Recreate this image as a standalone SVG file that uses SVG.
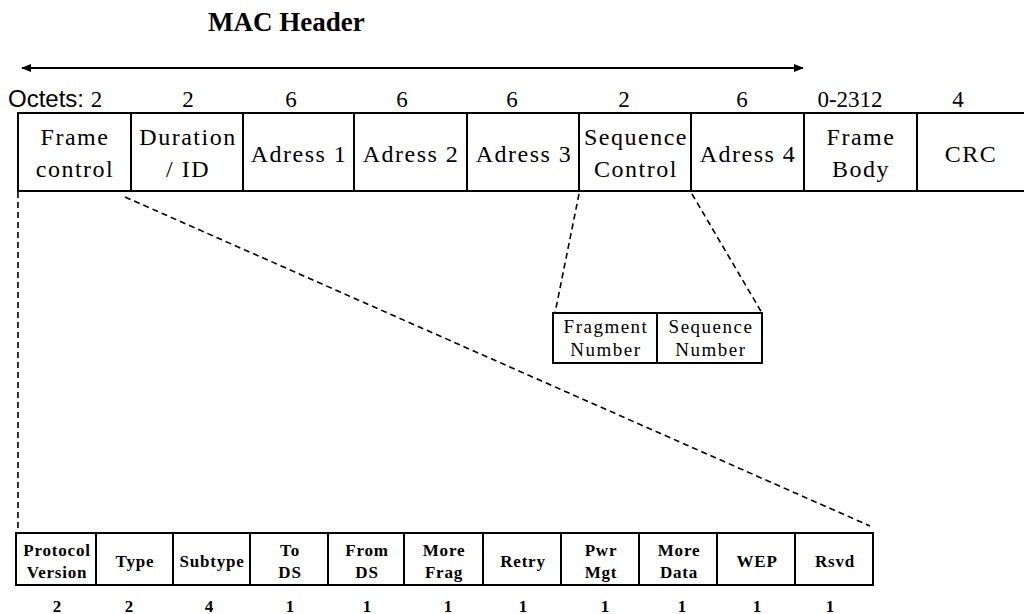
<svg xmlns="http://www.w3.org/2000/svg" width="1024" height="614" viewBox="0 0 1024 614">
<style>
  .box{fill:none;stroke:#000;stroke-width:2}
  .t{font-family:"Liberation Serif","Times New Roman",serif;font-size:24px;letter-spacing:1.5px;fill:#000;text-anchor:middle}
  .n{font-family:"Liberation Serif","Times New Roman",serif;font-size:23px;fill:#000;text-anchor:middle}
  .m{font-family:"Liberation Serif","Times New Roman",serif;font-size:19px;letter-spacing:1.5px;fill:#000;text-anchor:middle}
  .b{font-family:"Liberation Serif","Times New Roman",serif;font-size:17px;font-weight:bold;letter-spacing:0.8px;fill:#000;text-anchor:middle}
  .bn{font-family:"Liberation Serif","Times New Roman",serif;font-size:17px;font-weight:bold;fill:#000;text-anchor:middle}
  .d{fill:none;stroke:#000;stroke-width:1.6;stroke-dasharray:6 4}
</style>
<defs>
  <marker id="ah" viewBox="0 0 10 10" refX="9" refY="5" markerWidth="5" markerHeight="5" orient="auto-start-reverse" markerUnits="strokeWidth">
    <path d="M0,1 L10,5 L0,9 Z" fill="#000"/>
  </marker>
</defs>
<rect width="1024" height="614" fill="#fff"/>
<text x="208" y="31" font-family="Liberation Serif, Times New Roman, serif" font-size="27" font-weight="bold" fill="#000">MAC Header</text>
<g id="connectors">
  <line x1="22" y1="68" x2="803" y2="68" stroke="#000" stroke-width="2" marker-start="url(#ah)" marker-end="url(#ah)"/>
  <path class="d" d="M18,192 V532"/>
  <path class="d" d="M125,197 L870,526"/>
  <path class="d" d="M579,194 L555,313"/>
  <path class="d" d="M692,194 L762,313"/>
</g>
<g id="octets">
  <text x="8" y="107" font-family="Liberation Sans, Arial, sans-serif" font-size="24" fill="#000">Octets: <tspan font-family="Liberation Serif, serif" font-size="23">2</tspan></text>
  <text class="n" x="188" y="107">2</text>
  <text class="n" x="291" y="107">6</text>
  <text class="n" x="402" y="107">6</text>
  <text class="n" x="512" y="107">6</text>
  <text class="n" x="624" y="107">2</text>
  <text class="n" x="742" y="107">6</text>
  <text class="n" x="850" y="107">0-2312</text>
  <text class="n" x="958" y="107">4</text>
</g>
<g id="mac-frame">
  <path class="box" d="M1024,113 H18 V191 H1024 M131,113 V191 M243,113 V191 M354,113 V191 M467,113 V191 M579,113 V191 M691,113 V191 M804,113 V191 M917,113 V191"/>
  <text class="t" x="75" y="145">Frame</text><text class="t" x="75" y="177">control</text>
  <text class="t" x="188" y="145">Duration</text><text class="t" x="188" y="177">/ ID</text>
  <text class="t" x="299" y="162">Adress 1</text>
  <text class="t" x="411" y="162">Adress 2</text>
  <text class="t" x="524" y="162">Adress 3</text>
  <text class="t" x="636" y="145">Sequence</text><text class="t" x="636" y="177">Control</text>
  <text class="t" x="748" y="162">Adress 4</text>
  <text class="t" x="861" y="145">Frame</text><text class="t" x="861" y="177">Body</text>
  <text class="t" x="971" y="162">CRC</text>
</g>
<g id="seq-control">
  <path class="box" d="M553,313 H762 V363 H553 Z M657,313 V363"/>
  <text class="m" x="606" y="333">Fragment</text><text class="m" x="606" y="356">Number</text>
  <text class="m" x="711" y="333">Sequence</text><text class="m" x="711" y="356">Number</text>
</g>
<g id="frame-control">
  <path class="box" d="M16,533 H873 V585 H16 Z M96,533 V585 M173,533 V585 M250,533 V585 M328,533 V585 M404,533 V585 M483,533 V585 M561,533 V585 M639,533 V585 M717,533 V585 M795,533 V585"/>
  <text class="b" x="57" y="556">Protocol</text><text class="b" x="57" y="578">Version</text>
  <text class="b" x="135" y="567">Type</text>
  <text class="b" x="212" y="567">Subtype</text>
  <text class="b" x="290" y="556">To</text><text class="b" x="290" y="578">DS</text>
  <text class="b" x="367" y="556">From</text><text class="b" x="367" y="578">DS</text>
  <text class="b" x="444" y="556">More</text><text class="b" x="444" y="578">Frag</text>
  <text class="b" x="523" y="567">Retry</text>
  <text class="b" x="601" y="556">Pwr</text><text class="b" x="601" y="578">Mgt</text>
  <text class="b" x="679" y="556">More</text><text class="b" x="679" y="578">Data</text>
  <text class="b" x="757" y="567">WEP</text>
  <text class="b" x="835" y="567">Rsvd</text>
</g>
<g id="bits">
  <text class="bn" x="57" y="612">2</text>
  <text class="bn" x="129" y="612">2</text>
  <text class="bn" x="209" y="612">4</text>
  <text class="bn" x="290" y="612">1</text>
  <text class="bn" x="367" y="612">1</text>
  <text class="bn" x="448" y="612">1</text>
  <text class="bn" x="523" y="612">1</text>
  <text class="bn" x="605" y="612">1</text>
  <text class="bn" x="682" y="612">1</text>
  <text class="bn" x="757" y="612">1</text>
  <text class="bn" x="830" y="612">1</text>
</g>
</svg>
